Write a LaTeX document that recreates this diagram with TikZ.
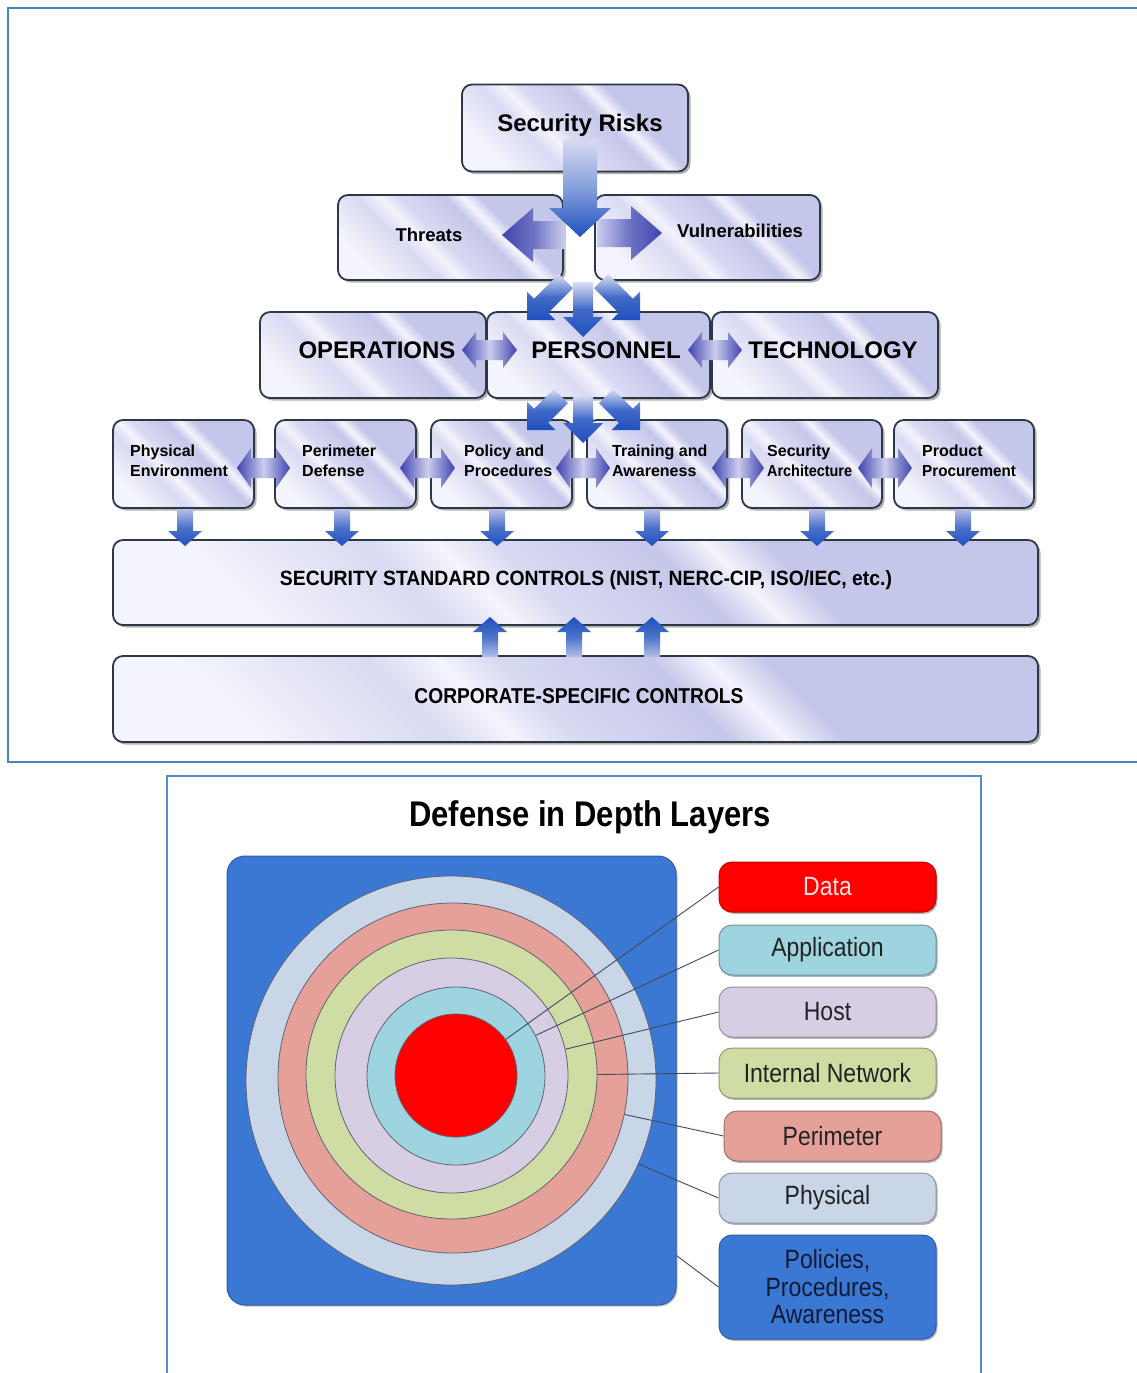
\documentclass[tikz,border=0pt]{standalone}
\usepackage{fontspec}
\setmainfont{Liberation Sans}
\usetikzlibrary{shapes.geometric,shadows,calc}
\definecolor{frameblue}{HTML}{4F81BD}
\definecolor{frameblue2}{HTML}{5A89CC}
\definecolor{boxedge}{HTML}{2C3848}
\definecolor{boxA}{HTML}{F4F4FC}
\definecolor{boxB}{HTML}{D9DAF2}
\definecolor{boxC}{HTML}{C5C7EA}
\definecolor{arrdark}{HTML}{1F50BE}
\definecolor{arrlight}{HTML}{B4BEE6}
\definecolor{arrfade}{HTML}{DADFF4}
\definecolor{indigo}{HTML}{3F44AE}
\definecolor{indlight}{HTML}{CCCDEE}
\definecolor{sqblue}{HTML}{3B78D3}
\definecolor{sqedge}{HTML}{2C5DAA}
\definecolor{ringphys}{HTML}{C9D6E8}
\definecolor{ringper}{HTML}{E5A199}
\definecolor{ringnet}{HTML}{CFDDA4}
\definecolor{ringhost}{HTML}{D7CEE4}
\definecolor{ringapp}{HTML}{9ED4DF}
\definecolor{ringdata}{HTML}{FF0000}
\definecolor{ringline}{HTML}{5E6470}
\definecolor{leadline}{HTML}{3E4A5E}
\definecolor{datatext}{HTML}{FBE3E3}
\definecolor{poltext}{HTML}{111B36}
\definecolor{labeltext}{HTML}{222222}
\pgfdeclarehorizontalshading{boxshade}{100bp}{color(0bp)=(boxA); color(25bp)=(boxA); color(38bp)=(boxB); color(43bp)=(boxA); color(47bp)=(boxB); color(58bp)=(boxC); color(62bp)=(boxA); color(66bp)=(boxC); color(75bp)=(boxC); color(100bp)=(boxC)}
\newcommand\tallt[1]{\scalebox{1}[1.15]{#1}}
\tikzset{
 gbox/.style={rounded corners=10pt, draw=boxedge, line width=1.8pt, shade, shading=boxshade, shading angle=45, drop shadow={shadow xshift=2.5pt, shadow yshift=-2.5pt, opacity=0.3, fill=black}},
 ttext/.style={font=\bfseries\fontsize{24}{28}\selectfont, inner sep=0pt},
 stext/.style={font=\bfseries\fontsize{18.5}{22}\selectfont, inner sep=0pt},
 rtext/.style={font=\bfseries\fontsize{16}{19.5}\selectfont, align=left, anchor=north west, inner sep=0pt},
 lbox/.style={rounded corners=13pt, minimum width=217pt, minimum height=50pt, line width=1pt, inner sep=0pt, font=\fontsize{23}{27.5}\selectfont, text=labeltext, drop shadow={shadow xshift=1.5pt, shadow yshift=-1.8pt, opacity=0.3, fill=black}},
 ring/.style={ellipse, draw=ringline, line width=0.8pt, inner sep=0pt},
 lead/.style={draw=leadline, line width=0.9pt},
 downshade/.style={top color=arrlight, bottom color=arrdark, middle color=arrdark!80},
 upshade/.style={top color=arrdark, bottom color=arrlight, middle color=arrdark!80},
 diagshade/.style={top color=arrfade, bottom color=arrdark, middle color=arrdark!85},
 bothshade/.style={left color=indigo, right color=indigo, middle color=indlight},
 % tip at origin; #1 length, #2 shaft half width, #3 head half width, #4 head length, #5 fill options
 pics/arrdown/.style n args={5}{code={\path[#5] (-#2,-#1) -- (#2,-#1) -- (#2,-#4) -- (#3,-#4) -- (0,0) -- (-#3,-#4) -- (-#2,-#4) -- cycle;}},
 pics/arrup/.style n args={5}{code={\path[#5] (-#2,#1) -- (#2,#1) -- (#2,#4) -- (#3,#4) -- (0,0) -- (-#3,#4) -- (-#2,#4) -- cycle;}},
 pics/arrleft/.style n args={5}{code={\path[#5] (0,0) -- (#4,-#3) -- (#4,-#2) -- (#1,-#2) -- (#1,#2) -- (#4,#2) -- (#4,#3) -- cycle;}},
 pics/arrright/.style n args={5}{code={\path[#5] (0,0) -- (-#4,-#3) -- (-#4,-#2) -- (-#1,-#2) -- (-#1,#2) -- (-#4,#2) -- (-#4,#3) -- cycle;}},
 % centred; #1 half length
 pics/arrboth/.style n args={5}{code={\path[#5] (-#1,0) -- (-#1+#4,-#3) -- (-#1+#4,-#2) -- (#1-#4,-#2) -- (#1-#4,-#3) -- (#1,0) -- (#1-#4,#3) -- (#1-#4,#2) -- (-#1+#4,#2) -- (-#1+#4,#3) -- cycle;}}
}
\begin{document}
\begin{tikzpicture}[x=1pt,y=-1pt]
\useasboundingbox (0,0) rectangle (1136,1373);
\fill[white] (0,0) rectangle (1136,1373);
% frames
\draw[frameblue, line width=2.2pt] (1140,8) -- (8,8) -- (8,762) -- (1140,762);
\draw[frameblue2, line width=1.6pt] (167,1380) -- (167,776) -- (981,776) -- (981,1380);

% ---------- top diagram boxes
\node[gbox, minimum width=226pt, minimum height=87pt] (sr) at (575,128) {};
\node[gbox, minimum width=225pt, minimum height=85pt] (th) at (450.5,237.5) {};
\node[gbox, minimum width=225pt, minimum height=85pt] (vu) at (707.5,237.5) {};
\node[gbox, minimum width=226pt, minimum height=86pt] (op) at (373,355) {};
\node[gbox, minimum width=223pt, minimum height=86pt] (pe) at (598.5,355) {};
\node[gbox, minimum width=226pt, minimum height=86pt] (te) at (825,355) {};
\node[gbox, minimum width=141pt, minimum height=88pt] (b1) at (183.5,464) {};
\node[gbox, minimum width=141pt, minimum height=88pt] (b2) at (345.5,464) {};
\node[gbox, minimum width=141pt, minimum height=88pt] (b3) at (501.5,464) {};
\node[gbox, minimum width=140pt, minimum height=88pt] (b4) at (657,464) {};
\node[gbox, minimum width=140pt, minimum height=88pt] (b5) at (812,464) {};
\node[gbox, minimum width=140pt, minimum height=88pt] (b6) at (964,464) {};
\node[gbox, minimum width=925pt, minimum height=85pt] (ssc) at (575.5,582.5) {};
\node[gbox, minimum width=925pt, minimum height=86pt] (csc) at (575.5,699) {};

% ---------- block arrows
\pic (ta) at (502,235) {arrleft={63}{14}{27}{31}{left color=indigo, right color=indlight, middle color=indigo!75}};
\pic (va) at (662,233) {arrright={65}{14}{27}{31}{left color=indlight, right color=indigo, middle color=indigo!75}};
\pic (sa) at (580,237) {arrdown={97}{17}{31}{29}{top color=boxB, bottom color=arrdark, middle color=arrdark!55}};

\pic[rotate=-45] (d1) at (527,320) {arrdown={55}{10}{20}{20}{diagshade}};
\pic[rotate=45] (d3) at (640,320) {arrdown={55}{10}{20}{20}{diagshade}};
\pic (d2) at (583,337) {arrdown={55}{10}{20}{20}{diagshade}};
\pic[rotate=-45] (e1) at (527,430) {arrdown={48}{10}{20}{20}{diagshade}};
\pic[rotate=45] (e3) at (640,430) {arrdown={48}{10}{20}{20}{diagshade}};
\pic (e2) at (583,443) {arrdown={48}{10}{20}{20}{diagshade}};

\pic (h1) at (489.5,350) {arrboth={27.5}{10}{18}{14}{bothshade}};
\pic (h2) at (715,350) {arrboth={27}{10}{18}{14}{bothshade}};

\pic (r1) at (263.5,468) {arrboth={26.5}{10}{20}{14}{bothshade}};
\pic (r2) at (427.5,468) {arrboth={27.5}{10}{20}{14}{bothshade}};
\pic (r3) at (583,468) {arrboth={27}{10}{20}{14}{bothshade}};
\pic (r4) at (738,468) {arrboth={26}{10}{20}{14}{bothshade}};
\pic (r5) at (885,468) {arrboth={27}{10}{20}{14}{bothshade}};

\foreach \x/\n in {185/1,342/2,497/3,652/4,817/5,963/6}
  \pic (dn\n) at (\x,546) {arrdown={37}{8}{17}{15}{downshade}};
\foreach \x/\n in {490/1,574/2,652/3}
  \pic (up\n) at (\x,617) {arrup={40}{8}{17}{15}{upshade}};

% ---------- texts
\node[ttext] at (580,125) {Security Risks};
\node[stext] at (429,235) {Threats};
\node[stext] at (740,231) {Vulnerabilities};
\node[ttext] at (377,350) {OPERATIONS};
\node[ttext] at (606,350) {PERSONNEL};
\node[ttext] at (833,350) {TECHNOLOGY};
\node[rtext] at (130,445) {Physical\\Environment};
\node[rtext] at (302,445) {Perimeter\\Defense};
\node[rtext] at (464,445) {Policy and\\Procedures};
\node[rtext] at (612,445) {Training and\\Awareness};
\node[rtext] at (767,445) {Security\\\scalebox{0.9}[1]{Architecture}};
\node[rtext] at (922,445) {Product\\\scalebox{0.95}[1]{Procurement}};
\node[inner sep=0pt] at (586,580) {\resizebox{612pt}{15pt}{\bfseries SECURITY STANDARD CONTROLS (NIST, NERC-CIP, ISO/IEC, etc.)}};
\node[inner sep=0pt] at (579,696) {\resizebox{329pt}{15pt}{\bfseries CORPORATE-SPECIFIC CONTROLS}};

% ---------- Defense in depth
\node[font=\bfseries\fontsize{31}{36}\selectfont, inner sep=0pt] (title) at (590,817) {\tallt{Defense in Depth Layers}};
\node[draw=sqedge, fill=sqblue, rounded corners=18pt, minimum width=449pt, minimum height=449pt, line width=1pt, drop shadow={shadow xshift=1.5pt, shadow yshift=-1.5pt, opacity=0.25, fill=black}] (sq) at (451.5,1080.5) {};
\node[ring, fill=ringphys, minimum width=410pt, minimum height=409pt] (rphys) at (451,1080.5) {};
\node[ring, fill=ringper, minimum width=350pt, minimum height=350pt] (rper) at (453,1078) {};
\node[ring, fill=ringnet, minimum width=291pt, minimum height=289pt] (rnet) at (451.5,1074.5) {};
\node[ring, fill=ringhost, minimum width=233pt, minimum height=235pt] (rhost) at (451.5,1075.5) {};
\node[ring, fill=ringapp, minimum width=178pt, minimum height=178pt] (rapp) at (456,1076) {};
\node[ring, fill=ringdata, minimum width=122pt, minimum height=123pt] (rdata) at (456,1075.5) {};

\node[lbox, fill=ringdata, draw=ringdata!75!black, text=datatext] (ldata) at (827.5,887) {\tallt{Data}};
\node[lbox, fill=ringapp, draw=ringapp!70!black] (lapp) at (827.5,950) {\tallt{Application}};
\node[lbox, fill=ringhost, draw=ringhost!70!black] (lhost) at (827.5,1012) {\tallt{Host}};
\node[lbox, fill=ringnet, draw=ringnet!70!black] (lnet) at (827.5,1073) {\tallt{Internal Network}};
\node[lbox, fill=ringper, draw=ringper!70!black] (lper) at (832.5,1136) {\tallt{Perimeter}};
\node[lbox, fill=ringphys, draw=ringphys!70!black] (lphys) at (827.5,1198) {\tallt{Physical}};
\node[lbox, fill=sqblue, draw=sqedge, minimum height=104pt, align=center, text=poltext] (lpol) at (827.5,1287) {\tallt{Policies,}\\\tallt{Procedures,}\\\tallt{Awareness}};

\coordinate (sqpt) at ($(sq.east)+(0,175)$);
\draw[lead] (ldata.west) -- (rdata.36);
\draw[lead] (lapp.west) -- (rapp.27);
\draw[lead] (lhost.west) -- (rhost.13);
\draw[lead] (lnet.west) -- (rnet.0);
\draw[lead] (lper.west) -- (rper.-12);
\draw[lead] (lphys.west) -- (rphys.-24);
\draw[lead] (lpol.west) -- (sqpt);
\end{tikzpicture}
\end{document}
